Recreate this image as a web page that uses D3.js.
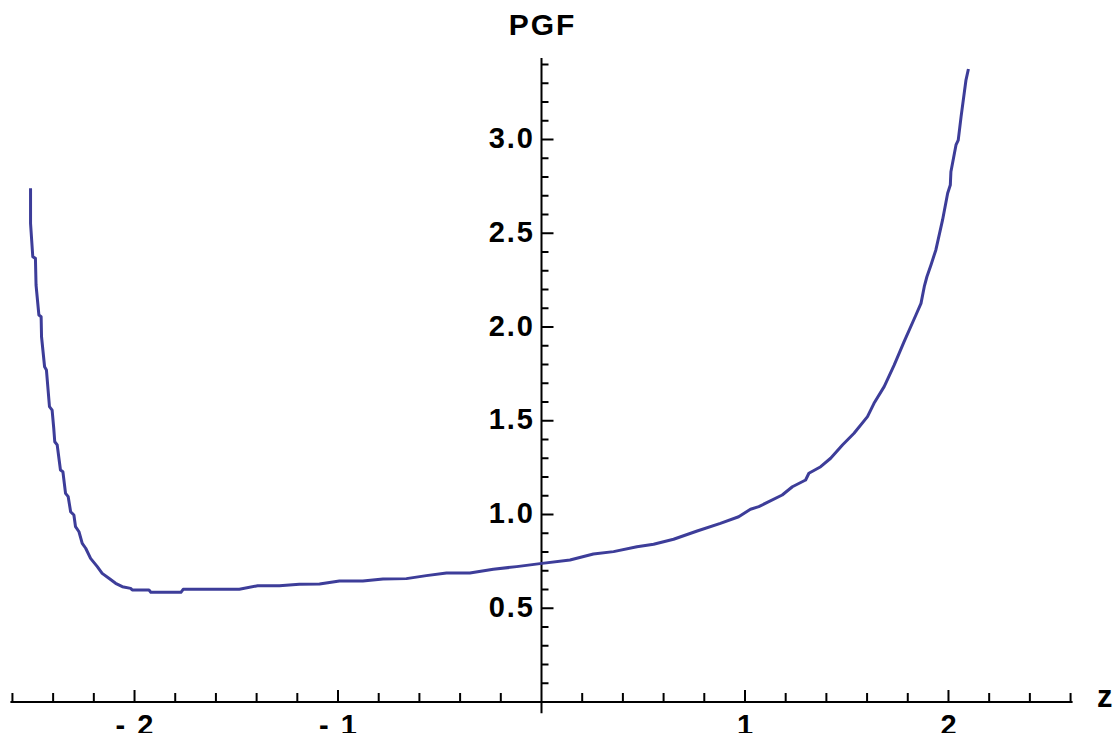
<!DOCTYPE html>
<html>
<head>
<meta charset="utf-8">
<script src="https://cdn.jsdelivr.net/npm/d3@7"></script>
<style>
  body { margin: 0; background: #fff; }
  text { font-family: "Liberation Sans", Arial, Helvetica, sans-serif; font-weight: bold; }
</style>
</head>
<body>
<div id="chart-area"></div>
<script>
/*
*    PGF plot
*/
var zValues = [-2.511, -2.511, -2.500, -2.487, -2.484, -2.470, -2.459, -2.457, -2.442, -2.433,
	-2.418, -2.405, -2.397, -2.392, -2.380, -2.364, -2.352, -2.339, -2.326, -2.314,
	-2.298, -2.290, -2.273, -2.257, -2.240, -2.216, -2.183, -2.159, -2.126, -2.093,
	-2.060, -2.019, -2.011, -1.929, -1.920, -1.772, -1.761, -1.485, -1.395, -1.288,
	-1.190, -1.091, -0.993, -0.878, -0.779, -0.664, -0.566, -0.467, -0.352, -0.237,
	-0.122, -0.007, 0.140, 0.255, 0.354, 0.469, 0.551, 0.649, 0.765, 0.879,
	0.969, 1.027, 1.068, 1.183, 1.233, 1.298, 1.314, 1.372, 1.421, 1.479,
	1.536, 1.602, 1.634, 1.684, 1.733, 1.782, 1.840, 1.865, 1.881, 1.894,
	1.914, 1.938, 1.971, 1.996, 2.009, 2.012, 2.037, 2.048, 2.062, 2.086, 2.098];
var pgfValues = [2.740, 2.553, 2.375, 2.366, 2.224, 2.064, 2.055, 1.948, 1.788, 1.771,
	1.575, 1.557, 1.460, 1.388, 1.371, 1.237, 1.228, 1.113, 1.095, 1.015,
	0.997, 0.935, 0.908, 0.846, 0.820, 0.766, 0.722, 0.686, 0.660, 0.633,
	0.615, 0.606, 0.597, 0.597, 0.585, 0.585, 0.601, 0.601, 0.620, 0.620,
	0.628, 0.629, 0.645, 0.645, 0.656, 0.658, 0.674, 0.688, 0.688, 0.708,
	0.722, 0.738, 0.757, 0.789, 0.802, 0.828, 0.841, 0.868, 0.912, 0.953,
	0.988, 1.028, 1.042, 1.104, 1.148, 1.184, 1.220, 1.255, 1.300, 1.371,
	1.433, 1.522, 1.593, 1.682, 1.797, 1.922, 2.064, 2.126, 2.215, 2.268,
	2.331, 2.411, 2.571, 2.713, 2.757, 2.828, 2.971, 2.997, 3.122, 3.317, 3.376];

var xMajor = [-2, -1, 1, 2];
var xMajorLabels = ["- 2", "- 1", "1", "2"];
var yMajor = [0.5, 1.0, 1.5, 2.0, 2.5, 3.0];
var yMajorLabels = ["0.5", "1.0", "1.5", "2.0", "2.5", "3.0"];
var xMinor = d3.range(-13, 14).map((i)=>{ return i / 5; }).filter((v)=>{ return v !== 0 && xMajor.indexOf(v) < 0; });
var yMinor = d3.range(1, 35).map((i)=>{ return i / 10; }).filter((v)=>{ return Math.abs(v * 2 - Math.round(v * 2)) > 1e-6; });

var width = 1117, height = 733;
var svg = d3.select("#chart-area").append("svg")
		.attr("width", width)
		.attr("height", height);

var x = d3.scaleLinear()
		.domain([-2.61, 2.61])
		.range([10.4, 1072.6]);
var y = d3.scaleLinear()
		.domain([0, 3.4])
		.range([702, 64.5]);

// x axis
var xAxisG = svg.append("g")
		.attr("transform", "translate(0," + y(0) + ")");
xAxisG.append("line")
		.attr("x1", x(-2.61))
		.attr("x2", x(2.61))
		.attr("stroke", "#000")
		.attr("stroke-width", 2);
xAxisG.selectAll(".xminor")
	.data(xMinor)
	.enter().append("line")
		.attr("x1", (d)=>{ return x(d); })
		.attr("x2", (d)=>{ return x(d); })
		.attr("y1", 0)
		.attr("y2", -9)
		.attr("stroke", "#000")
		.attr("stroke-width", 2);
xAxisG.selectAll(".xmajor")
	.data(xMajor)
	.enter().append("line")
		.attr("x1", (d)=>{ return x(d); })
		.attr("x2", (d)=>{ return x(d); })
		.attr("y1", 0)
		.attr("y2", -12)
		.attr("stroke", "#000")
		.attr("stroke-width", 2);
xAxisG.selectAll(".xlabel")
	.data(xMajor)
	.enter().append("text")
		.attr("x", (d)=>{ return x(d) + 1; })
		.attr("y", 33)
		.attr("text-anchor", "middle")
		.attr("font-size", 29)
		.attr("letter-spacing", 2)
		.text((d, i)=>{ return xMajorLabels[i]; });

// y axis
var yAxisG = svg.append("g")
		.attr("transform", "translate(" + x(0) + ",0)");
yAxisG.append("line")
		.attr("y1", y(-0.06))
		.attr("y2", y(3.435))
		.attr("stroke", "#000")
		.attr("stroke-width", 2);
yAxisG.selectAll(".yminor")
	.data(yMinor)
	.enter().append("line")
		.attr("y1", (d)=>{ return y(d); })
		.attr("y2", (d)=>{ return y(d); })
		.attr("x1", 0)
		.attr("x2", 7)
		.attr("stroke", "#000")
		.attr("stroke-width", 2);
yAxisG.selectAll(".ymajor")
	.data(yMajor)
	.enter().append("line")
		.attr("y1", (d)=>{ return y(d); })
		.attr("y2", (d)=>{ return y(d); })
		.attr("x1", 0)
		.attr("x2", 12)
		.attr("stroke", "#000")
		.attr("stroke-width", 2);
yAxisG.selectAll(".ylabel")
	.data(yMajor)
	.enter().append("text")
		.attr("x", -6.5)
		.attr("y", (d)=>{ return y(d) + 8.5; })
		.attr("text-anchor", "end")
		.attr("font-size", 29)
		.attr("letter-spacing", 2)
		.text((d, i)=>{ return yMajorLabels[i]; });

// axis titles
svg.append("text")
		.attr("x", x(0) + 1)
		.attr("y", 35)
		.attr("text-anchor", "middle")
		.attr("font-size", 30)
		.attr("letter-spacing", 2)
		.text("PGF");
svg.append("text")
		.attr("x", 1097)
		.attr("y", 707)
		.attr("font-size", 31)
		.text("z");

// curve
var points = zValues.map((d, i)=>{ return [d, pgfValues[i]]; });
var line = d3.line()
		.x((d)=>{ return x(d[0]); })
		.y((d)=>{ return y(d[1]); });
svg.append("path")
		.datum(points)
		.attr("d", line)
		.attr("fill", "none")
		.attr("stroke", "#3d3d99")
		.attr("stroke-width", 3)
		.attr("stroke-linejoin", "round");
</script>
</body>
</html>
